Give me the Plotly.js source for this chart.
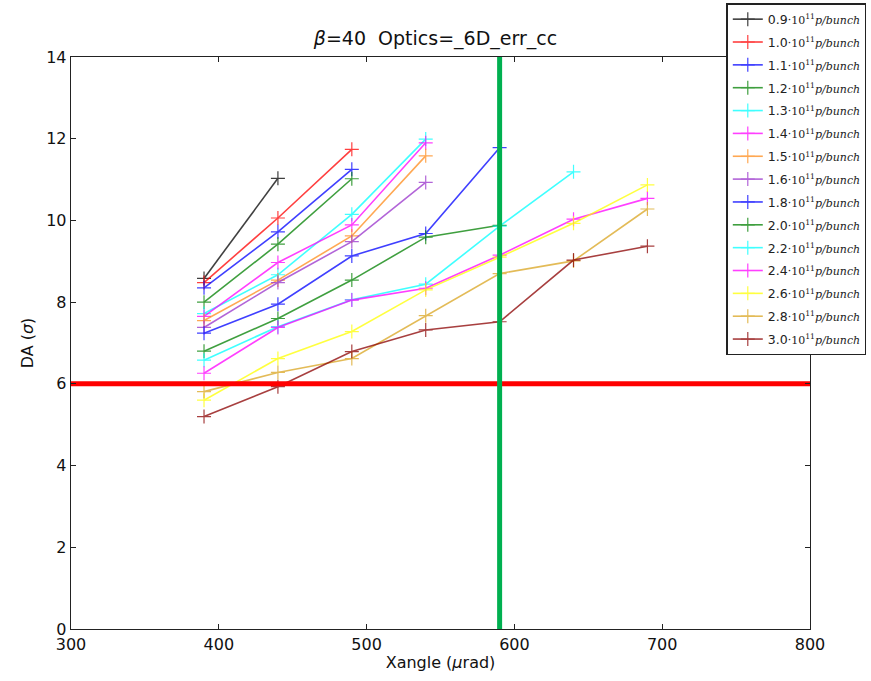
<!DOCTYPE html>
<html><head><meta charset="utf-8">
<script src="https://cdn.plot.ly/plotly-3.0.1.min.js"></script>
<style>body{margin:0;background:#fff}#c{width:871px;height:681px}</style>
</head><body><div id="c"></div>
<script>
const xangle = [390, 440, 490, 540, 590, 640, 690];
const intensities = ["0.9","1.0","1.1","1.2","1.3","1.4","1.5","1.6","1.8","2.0","2.2","2.4","2.6","2.8","3.0"];
const colors = ["#000000","#ff0000","#0000ff","#008000","#00ffff","#ff00ff","#ff8c1a","#9932cc","#0000ff","#008000","#00ffff","#ff00ff","#ffff00","#daa520","#8b0000"];
const da09 = [8.58, 11.03];
const da10 = [8.48, 10.06, 11.74];
const da11 = [8.35, 9.72, 11.25];
const da12 = [8.00, 9.42, 11.02];
const da13 = [7.72, 8.67, 10.15, 11.99];
const da14 = [7.65, 8.97, 9.89, 11.90];
const da15 = [7.55, 8.54, 9.62, 11.58];
const da16 = [7.38, 8.48, 9.48, 10.93];
const da18 = [7.24, 7.95, 9.13, 9.68, 11.78];
const da20 = [6.80, 7.60, 8.54, 9.59, 9.88];
const da22 = [6.58, 7.40, 8.06, 8.44, 9.86, 11.19];
const da24 = [6.26, 7.38, 8.05, 8.34, 9.15, 10.03, 10.54];
const da26 = [5.60, 6.62, 7.28, 8.30, 9.10, 9.93, 10.87];
const da28 = [5.81, 6.28, 6.62, 7.67, 8.70, 9.01, 10.28];
const da30 = [5.20, 5.93, 6.79, 7.32, 7.52, 9.03, 9.37];
const series = [da09,da10,da11,da12,da13,da14,da15,da16,da18,da20,da22,da24,da26,da28,da30];
const hLineX = [300, 800], hLineY = [6, 6];
const vLineX = [590, 590], vLineY = [0, 14];

const serif = "font-family:'DejaVu Serif',serif";
const traces = series.map((ys, i) => ({
  x: xangle.slice(0, ys.length), y: ys, type: 'scatter', mode: 'lines+markers',
  name: intensities[i] + '<span style="font-size:11px;' + serif + '">·10<sup>11</sup><i>p/bunch</i></span>',
  line: {color: colors[i], width: 1.6}, opacity: 0.75,
  marker: {symbol: 'cross-thin-open', size: 10, line: {color: colors[i], width: 1.2}},
  legendgroup: 'g' + i
}));
traces.push({x: hLineX, y: hLineY, mode: 'lines', line: {color: '#ff0000', width: 5}, showlegend: false, hoverinfo: 'skip'});
traces.push({x: vLineX, y: vLineY, mode: 'lines', line: {color: '#00b050', width: 5}, showlegend: false, hoverinfo: 'skip'});

const axisCommon = {showgrid: false, zeroline: false, showline: true, linecolor: '#222', linewidth: 1.3, mirror: 'allticks',
  ticks: 'inside', ticklen: 5, tickcolor: '#222', tickfont: {size: 16, color: '#111'}};
Plotly.newPlot('c', traces, {
  width: 871, height: 681,
  margin: {l: 71, r: 61, t: 57, b: 52, autoexpand: false},
  paper_bgcolor: '#fff', plot_bgcolor: '#fff',
  font: {family: 'DejaVu Sans, sans-serif', color: '#111'},
  title: {text: '<i>β</i>=40  Optics=_6D_err_cc', x: 0.5, xanchor: 'center', y: 0.943, yanchor: 'middle', font: {size: 19}},
  xaxis: Object.assign({range: [300, 800], tickvals: [300,400,500,600,700,800], title: {text: 'Xangle (<i>μ</i>rad)', font: {size: 16}, standoff: 4}}, axisCommon),
  yaxis: Object.assign({range: [0, 14], tickvals: [0,2,4,6,8,10,12,14], title: {text: 'DA (<i>σ</i>)', font: {size: 16}, standoff: 8}}, axisCommon),
  legend: {x: 0.887, xanchor: 'left', y: 1.094, yanchor: 'top', bgcolor: '#fff', bordercolor: '#222', borderwidth: 1.3,
    font: {size: 12.5, color: '#222'}, tracegroupgap: 3.6, itemwidth: 30, maxheight: 0.9},
  showlegend: true
}, {staticPlot: true});
</script></body></html>
